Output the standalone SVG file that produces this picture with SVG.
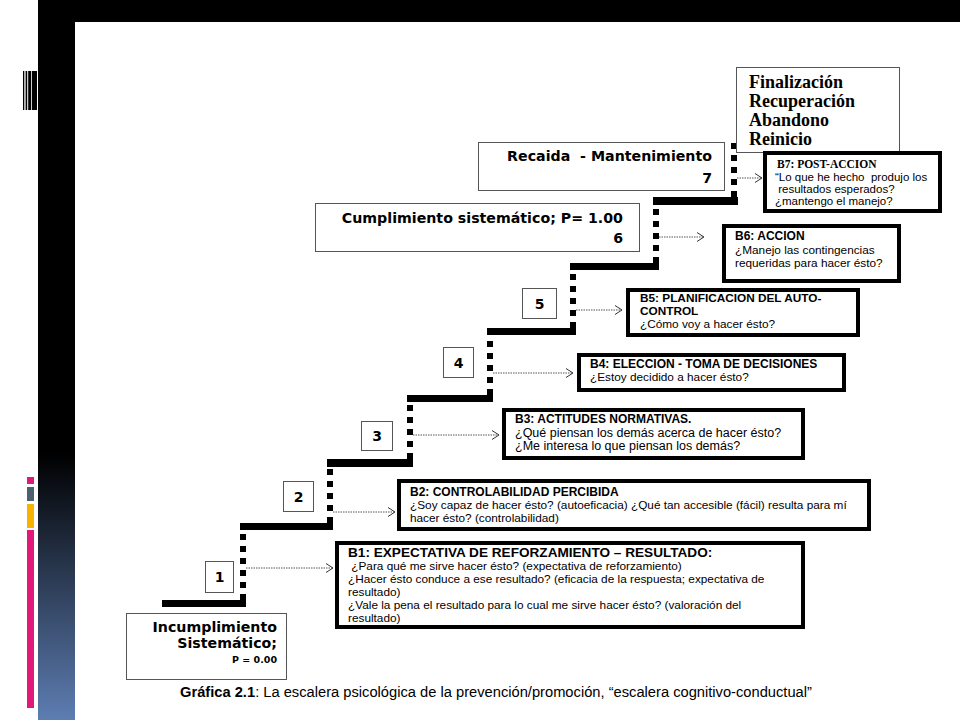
<svg xmlns="http://www.w3.org/2000/svg" width="960" height="720" viewBox="0 0 960 720">
<style>
.tb{fill:#fff;stroke:#555;stroke-width:1}
.bb{fill:#fff;stroke:#000;stroke-width:4}
.big{font-family:"DejaVu Sans",sans-serif;font-weight:bold;font-size:14.2px;fill:#000;text-anchor:end}
.num{font-family:"DejaVu Sans",sans-serif;font-weight:bold;font-size:14px;text-anchor:middle;fill:#000}
.ser{font-family:"Liberation Serif",serif;font-weight:bold;font-size:18px;fill:#000}
.h{font-family:"Liberation Sans",sans-serif;font-weight:bold;font-size:12px;fill:#000}
.t{font-family:"Liberation Sans",sans-serif;font-size:11.8px;fill:#000}
.bar{fill:#000}
.dots{stroke:#000;stroke-width:6;stroke-dasharray:6 6;fill:none}
.arr{stroke:#555;stroke-width:1;stroke-dasharray:1.5 1;fill:none;marker-end:url(#chev)}
.cap{font-family:"Liberation Sans",sans-serif;font-size:14.7px;fill:#000}
</style>
<defs>
<linearGradient id="side" x1="0" y1="0" x2="0" y2="1">
<stop offset="0" stop-color="#000"/>
<stop offset="0.63" stop-color="#000"/>
<stop offset="1" stop-color="#5d7db2"/>
</linearGradient>
<clipPath id="b1clip"><rect x="339" y="545" width="462" height="79"/></clipPath>
<marker id="chev" markerWidth="10" markerHeight="12" refX="8" refY="6" orient="auto" markerUnits="userSpaceOnUse">
<path d="M1,1.5 L8,6 L1,10.5" fill="none" stroke="#333" stroke-width="1"/>
</marker>
</defs>
<rect width="960" height="720" fill="#fff"/>
<g id="frame">
<rect x="38" y="0" width="922" height="22" fill="#000"/>
<rect x="38" y="0" width="37" height="720" fill="url(#side)"/>
<rect x="23" y="71" width="1.3" height="39" fill="#000"/>
<rect x="25.6" y="71" width="1.6" height="39" fill="#000"/>
<rect x="28.2" y="71" width="3" height="39" fill="#000"/>
<rect x="32" y="71" width="5" height="39" fill="#000"/>
<rect x="27" y="477" width="7" height="7" fill="#e2187a"/>
<rect x="27" y="487" width="7" height="14" fill="#4f5e70"/>
<rect x="27" y="504" width="7" height="24" fill="#f8b200"/>
<rect x="27" y="530" width="7" height="178" fill="#e2187a"/>
</g>
<g id="staircase">
<rect class="bar" x="162" y="600" width="84" height="7"/>
<rect class="bar" x="240" y="523" width="93" height="7"/>
<rect class="bar" x="327" y="459" width="86" height="8"/>
<rect class="bar" x="407" y="395" width="86" height="7"/>
<rect class="bar" x="487" y="328" width="89" height="7"/>
<rect class="bar" x="570" y="263" width="89" height="7"/>
<rect class="bar" x="653" y="197" width="85" height="8"/>
<line class="dots" x1="243" y1="600" x2="243" y2="530"/>
<line class="dots" x1="330" y1="523" x2="330" y2="467"/>
<line class="dots" x1="410" y1="459" x2="410" y2="402"/>
<line class="dots" x1="490" y1="395" x2="490" y2="335"/>
<line class="dots" x1="573" y1="328" x2="573" y2="270"/>
<line class="dots" x1="656" y1="263" x2="656" y2="205"/>
<line class="dots" x1="734" y1="197" x2="734" y2="138"/>
</g>
<g id="connectors">
<line class="arr" x1="246" y1="568" x2="333" y2="568"/>
<line class="arr" x1="333" y1="512" x2="395" y2="512"/>
<line class="arr" x1="413" y1="435" x2="499" y2="435"/>
<line class="arr" x1="493" y1="373" x2="573" y2="373"/>
<line class="arr" x1="576" y1="310" x2="622" y2="310"/>
<line class="arr" x1="659" y1="237" x2="704" y2="237"/>
<line class="arr" x1="737" y1="178" x2="762" y2="178"/>
</g>
<g id="n-final">
<rect class="tb" x="736.5" y="67.5" width="163" height="85"/>
<text class="ser" x="749" y="88">Finalización</text>
<text class="ser" x="749" y="107">Recuperación</text>
<text class="ser" x="749" y="126">Abandono</text>
<text class="ser" x="749" y="145">Reinicio</text>
</g>
<g id="n-recaida">
<rect class="tb" x="478.5" y="142.5" width="246" height="48"/>
<text class="big" x="712" y="161" xml:space="preserve">Recaida  - Mantenimiento</text>
<text class="big" x="712" y="183">7</text>
</g>
<g id="n-cumplimiento">
<rect class="tb" x="315.5" y="203.5" width="324" height="48"/>
<text class="big" x="623" y="223">Cumplimiento sistemático; P= 1.00</text>
<text class="big" x="623" y="243">6</text>
</g>
<g id="n-incumplimiento">
<rect class="tb" x="126.5" y="613.5" width="160" height="66"/>
<text class="big" x="277" y="632">Incumplimiento</text>
<text class="big" x="277" y="648">Sistemático;</text>
<text class="big" x="277" y="663" style="font-size:9.5px">P = 0.00</text>
</g>
<g id="n-1"><rect class="tb" x="205.5" y="561.5" width="28" height="31"/><text class="num" x="219.5" y="582">1</text></g>
<g id="n-2"><rect class="tb" x="283.5" y="481.5" width="30" height="30"/><text class="num" x="298.5" y="502">2</text></g>
<g id="n-3"><rect class="tb" x="361.5" y="421.5" width="31" height="29"/><text class="num" x="377" y="441">3</text></g>
<g id="n-4"><rect class="tb" x="443.5" y="347.5" width="30" height="30"/><text class="num" x="458.5" y="368">4</text></g>
<g id="n-5"><rect class="tb" x="522.5" y="288.5" width="34" height="30"/><text class="num" x="539.5" y="309">5</text></g>
<g id="n-b7">
<rect class="bb" x="765" y="153" width="175" height="58"/>
<text x="777" y="168" style="font-family:'Liberation Serif',serif;font-weight:bold;font-size:11.5px">B7: POST-ACCION</text>
<text class="t" x="775" y="181" style="font-size:11.5px" xml:space="preserve">“Lo que he hecho  produjo los</text>
<text class="t" x="775" y="193" style="font-size:11.5px" xml:space="preserve"> resultados esperados?</text>
<text class="t" x="775" y="205" style="font-size:11.5px">¿mantengo el manejo?</text>
</g>
<g id="n-b6">
<rect class="bb" x="724" y="226" width="175" height="55"/>
<text class="h" x="735" y="240">B6: ACCION</text>
<text class="t" x="735" y="254">¿Manejo las contingencias</text>
<text class="t" x="735" y="267">requeridas para hacer ésto?</text>
</g>
<g id="n-b5">
<rect class="bb" x="628" y="290" width="230" height="45"/>
<text class="h" x="640" y="302" style="font-size:11.8px">B5: PLANIFICACION DEL AUTO-</text>
<text class="h" x="640" y="315" style="font-size:11.8px">CONTROL</text>
<text class="t" x="640" y="328">¿Cómo voy a hacer ésto?</text>
</g>
<g id="n-b4">
<rect class="bb" x="579" y="355" width="265" height="35"/>
<text class="h" x="590" y="368">B4: ELECCION - TOMA DE DECISIONES</text>
<text class="t" x="590" y="381">¿Estoy decidido a hacer ésto?</text>
</g>
<g id="n-b3">
<rect class="bb" x="504" y="410" width="299" height="48"/>
<text class="h" x="515" y="423">B3: ACTITUDES NORMATIVAS.</text>
<text class="t" x="515" y="436.5" style="font-size:12.5px">¿Qué piensan los demás acerca de hacer ésto?</text>
<text class="t" x="515" y="450" style="font-size:12.5px">¿Me interesa lo que piensan los demás?</text>
</g>
<g id="n-b2">
<rect class="bb" x="399" y="481" width="470" height="48"/>
<text class="h" x="410" y="496">B2: CONTROLABILIDAD PERCIBIDA</text>
<text class="t" x="410" y="509">¿Soy capaz de hacer ésto? (autoeficacia) ¿Qué tan accesible (fácil) resulta para mí</text>
<text class="t" x="410" y="522">hacer ésto? (controlabilidad)</text>
</g>
<g id="n-b1">
<rect x="337" y="543" width="466" height="84" fill="#fff"/>
<g clip-path="url(#b1clip)">
<text class="h" x="348" y="557" style="font-size:13.6px">B1: EXPECTATIVA DE REFORZAMIENTO – RESULTADO:</text>
<text class="t" x="348" y="570" xml:space="preserve"> ¿Para qué me sirve hacer ésto? (expectativa de reforzamiento)</text>
<text class="t" x="348" y="583">¿Hacer ésto conduce a ese resultado? (eficacia de la respuesta; expectativa de</text>
<text class="t" x="348" y="596">resultado)</text>
<text class="t" x="348" y="609">¿Vale la pena el resultado para lo cual me sirve hacer ésto? (valoración del</text>
<text class="t" x="348" y="622">resultado)</text>
</g>
<rect x="337" y="543" width="466" height="84" fill="none" stroke="#000" stroke-width="4"/>
</g>
<g id="caption">
<text class="cap" x="180" y="697"><tspan font-weight="bold">Gráfica 2.1</tspan>: La escalera psicológica de la prevención/promoción, “escalera cognitivo-conductual”</text>
</g>
</svg>
